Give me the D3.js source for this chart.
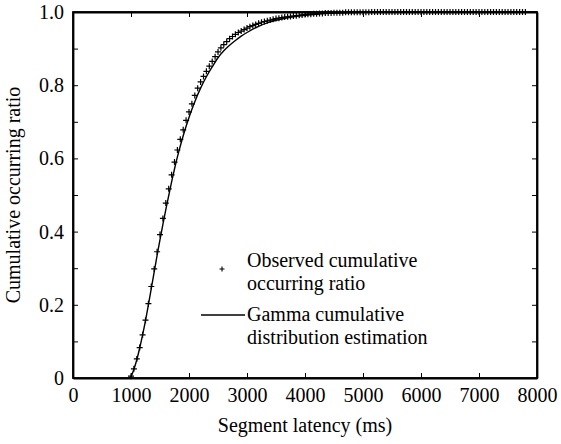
<!DOCTYPE html>
<html>
<head>
<meta charset="utf-8">
<script src="https://cdn.jsdelivr.net/npm/d3@7"></script>
<style>
body { margin: 0; background: #fff; }
text { font-family: "Liberation Serif", "Times New Roman", serif; fill: #000; }
</style>
</head>
<body>
<svg id="chart"></svg>
<script>
var width = 561;
var height = 444;

// observed cumulative ratio (+ markers)
var obsLatency = [1000,1050,1100,1150,1200,1250,1300,1350,1400,1450,1500,1550,1600,1650,1700,1750,1800,1850,1900,1950,
	2000,2050,2100,2150,2200,2250,2300,2350,2400,2450,2500,2550,2600,2650,2700,2750,2800,2850,2900,2950,
	3000,3050,3100,3150,3200,3250,3300,3350,3400,3450,3500,3550,3600,3650,3700,3750,3800,3850,3900,3950,
	4000,4050,4100,4150,4200,4250,4300,4350,4400,4450,4500,4550,4600,4650,4700,4750,4800,4850,4900,4950,
	5000,5050,5100,5150,5200,5250,5300,5350,5400,5450,5500,5550,5600,5650,5700,5750,5800,5850,5900,5950,
	6000,6050,6100,6150,6200,6250,6300,6350,6400,6450,6500,6550,6600,6650,6700,6750,6800,6850,6900,6950,
	7000,7050,7100,7150,7200,7250,7300,7350,7400,7450,7500,7550,7600,7650,7700,7750,7800];
var obsRatio = [0.005,0.025,0.052,0.083,0.118,0.158,0.203,0.250,0.298,0.345,
	0.392,0.436,0.478,0.517,0.555,0.590,0.623,0.652,0.678,0.704,
	0.727,0.749,0.772,0.792,0.809,0.824,0.838,0.852,0.865,0.878,
	0.891,0.902,0.911,0.919,0.927,0.933,0.939,0.944,0.948,0.952,
	0.956,0.960,0.963,0.966,0.969,0.972,0.974,0.976,0.978,0.980,
	0.982,0.983,0.985,0.986,0.987,0.988,0.989,0.990,0.991,0.992,
	0.993,0.994,0.994,0.995,0.995,0.996,0.996,0.997,0.997,0.997,
	0.998,0.998,0.998,0.998,0.999,0.999,0.999,0.999,0.999,0.999,
	0.999,0.999,0.999,1,1,1,1,1,1,1,1,1,1,1,1,1,1,1,1,1,
	1,1,1,1,1,1,1,1,1,1,1,1,1,1,1,1,1,1,1,1,
	1,1,1,1,1,1,1,1,1,1,1,1,1,1,1,1,1];

// gamma cumulative distribution estimation (solid line)
var fitLatency = [980,1000,1050,1100,1150,1200,1250,1300,1350,1400,1450,1500,1550,1600,1650,1700,1750,1800,1900,
	2000,2100,2200,2300,2400,2500,2600,2700,2800,2900,3000,3200,3400,3600,3800,4000,4200,4500,5000,5500,8000];
var fitRatio = [0,0.004,0.024,0.05,0.082,0.118,0.157,0.200,0.245,0.290,0.335,0.378,0.420,0.460,0.498,0.536,0.571,0.604,0.662,
	0.712,0.755,0.792,0.823,0.850,0.875,0.894,0.909,0.922,0.934,0.944,0.961,0.973,0.981,0.987,0.991,0.994,0.997,0.999,1,1];

var xTicks = [0,1000,2000,3000,4000,5000,6000,7000,8000];
var yTicks = [0,0.1,0.2,0.3,0.4,0.5,0.6,0.7,0.8,0.9,1.0];
var yLabels = [0,0.2,0.4,0.6,0.8,1.0];

var margin = {left: 73, right: 24, top: 12, bottom: 66};
var fontFamily = '"Liberation Serif", "Times New Roman", serif';

var svg = d3.select('#chart')
	.attr('width', width)
	.attr('height', height);

var x = d3.scaleLinear().domain([0, 8000]).range([margin.left, width - margin.right]);
var y = d3.scaleLinear().domain([0, 1]).range([height - margin.bottom, margin.top]);

var fmtY = function(d) { return d === 0 ? '0' : d3.format('.1f')(d); };

function styleLabels(g) {
	g.attr('font-family', fontFamily).attr('font-size', 20);
	g.selectAll('text').attr('fill', '#000');
}

// axes, ticks pointing inward on all four sides
svg.append('g')
	.attr('transform', 'translate(0,' + y(0) + ')')
	.call(d3.axisBottom(x).tickValues(xTicks).tickSizeInner(-5).tickSizeOuter(0).tickPadding(10).tickFormat(d3.format('d')))
	.call(styleLabels);
svg.append('g')
	.attr('transform', 'translate(0,' + y(1) + ')')
	.call(d3.axisTop(x).tickValues(xTicks).tickSizeInner(-5).tickSizeOuter(0).tickFormat(''));
svg.append('g')
	.attr('transform', 'translate(' + x(0) + ',0)')
	.call(d3.axisLeft(y).tickValues(yTicks).tickSizeInner(-5).tickSizeOuter(0).tickPadding(9)
		.tickFormat(function(d) { return yLabels.indexOf(d) >= 0 ? fmtY(d) : ''; }))
	.call(styleLabels);
svg.append('g')
	.attr('transform', 'translate(' + x(8000) + ',0)')
	.call(d3.axisRight(y).tickValues(yTicks).tickSizeInner(-5).tickSizeOuter(0).tickFormat(''));

svg.selectAll('.domain').attr('stroke', '#000').attr('stroke-width', 1.8);
svg.selectAll('.tick line').attr('stroke', '#000').attr('stroke-width', 1);

// frame
svg.append('rect')
	.attr('x', x(0))
	.attr('y', y(1))
	.attr('width', x(8000) - x(0))
	.attr('height', y(0) - y(1))
	.attr('fill', 'none')
	.attr('stroke', '#000')
	.attr('stroke-width', 1.8);

// fitted line
var line = d3.line()
	.x(function(d) { return x(d[0]); })
	.y(function(d) { return y(d[1]); })
	.curve(d3.curveMonotoneX);
svg.append('path')
	.datum(fitLatency.map(function(d, i) { return [d, fitRatio[i]]; }))
	.attr('d', line)
	.attr('fill', 'none')
	.attr('stroke', '#000')
	.attr('stroke-width', 1.4);

// observed markers
function plusPath(s) {
	return 'M' + (-s) + ',0H' + s + 'M0,' + (-s) + 'V' + s;
}
svg.append('g')
	.selectAll('path')
	.data(obsLatency.map(function(d, i) { return [d, obsRatio[i]]; }))
	.enter()
	.append('path')
	.attr('transform', function(d) { return 'translate(' + x(d[0]) + ',' + y(d[1]) + ')'; })
	.attr('d', plusPath(3))
	.attr('stroke', '#000')
	.attr('stroke-width', 1.2);

// legend
var legend = svg.append('g').attr('font-family', fontFamily).attr('font-size', 20);
legend.append('path')
	.attr('transform', 'translate(222,269)')
	.attr('d', plusPath(2.5))
	.attr('stroke', '#000')
	.attr('stroke-width', 1.1);
legend.append('text').attr('x', 247).attr('y', 267).text('Observed cumulative');
legend.append('text').attr('x', 247).attr('y', 290).text('occurring ratio');
legend.append('line')
	.attr('x1', 201).attr('x2', 245).attr('y1', 315).attr('y2', 315)
	.attr('stroke', '#000').attr('stroke-width', 1.4);
legend.append('text').attr('x', 247).attr('y', 321).text('Gamma cumulative');
legend.append('text').attr('x', 247).attr('y', 344).text('distribution estimation');

// axis titles
svg.append('text')
	.attr('x', (x(0) + x(8000)) / 2)
	.attr('y', 432)
	.attr('text-anchor', 'middle')
	.style('font-size', '20px')
	.text('Segment latency (ms)');
svg.append('text')
	.attr('transform', 'translate(20,' + ((y(0) + y(1)) / 2) + ') rotate(-90)')
	.attr('text-anchor', 'middle')
	.style('font-size', '20px')
	.text('Cumulative occurring ratio');
</script>
</body>
</html>
